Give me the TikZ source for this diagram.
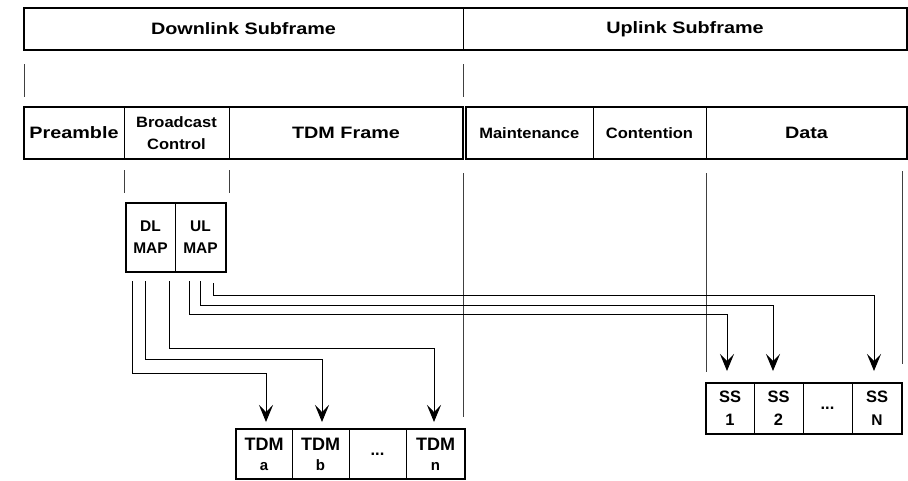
\documentclass[tikz,border=0pt]{standalone}
\usepackage{fontspec}
\setmainfont{Liberation Sans}
\newfontfamily\wideA[FakeStretch=1.2]{Liberation Sans}
\newfontfamily\wideB[FakeStretch=1.1]{Liberation Sans}
\usetikzlibrary{arrows.meta,calc}

\begin{document}
\begin{tikzpicture}[x=1pt,y=-1pt,
  cell/.style={draw, line width=0.9pt, inner sep=0pt, outer sep=0pt,
    anchor=north west, align=center, font=\bfseries},
  frame/.style={draw, line width=2pt},
  guide/.style={draw=black!75, line width=0.9pt},
  conn/.style={draw, line width=1pt,
    -{Stealth[length=17pt,width=14pt,inset=7pt]}},
  big/.style={font=\wideA\bfseries\fontsize{16.5}{20}\selectfont},
  mid/.style={font=\wideB\bfseries\fontsize{15}{22}\selectfont},
  map/.style={font=\bfseries\fontsize{15.5}{22}\selectfont},
  tdm/.style={font=\bfseries\fontsize{18}{20}\selectfont},
  ss/.style={font=\bfseries\fontsize{16.5}{23}\selectfont},
]
\useasboundingbox (0,0) rectangle (908,480);

% ---- top row: subframes
\node[cell,big,minimum width=439pt,minimum height=42pt] (down) at (24,8) {Downlink Subframe};
\node[cell,big,minimum width=444pt,minimum height=42pt] (up) at (463,8) {Uplink Subframe};
\draw[frame] (down.north west) rectangle (up.south east);

\draw[guide] ([yshift=-14pt]down.south west) -- ++(0,33);
\draw[guide] ([yshift=-14pt]up.south west) -- ++(0,33);

% ---- second row: downlink part
\node[cell,big,minimum width=100pt,minimum height=52pt] (pre) at (24,107) {Preamble};
\node[cell,mid,minimum width=105pt,minimum height=52pt] (bc) at (124,107) {Broadcast\\Control};
\node[cell,big,minimum width=234pt,minimum height=52pt] (tdmf) at (229,107) {TDM Frame};
\draw[frame] (pre.north west) rectangle (tdmf.south east);

% ---- second row: uplink part
\node[cell,mid,minimum width=127.5pt,minimum height=52pt] (maint) at (465.5,107) {Maintenance};
\node[cell,mid,minimum width=113pt,minimum height=52pt] (cont) at (593,107) {Contention};
\node[cell,big,minimum width=201pt,minimum height=52pt] (data) at (706,107) {Data};
\draw[frame] (maint.north west) rectangle (data.south east);

% ---- guide lines below the frame
\draw[guide] ([yshift=-11pt]bc.south west) -- ++(0,23);
\draw[guide] ([yshift=-11pt]bc.south east) -- ++(0,23);
\draw[guide] ([yshift=-14pt]tdmf.south east) -- ++(0,244);
\draw[guide] ([yshift=-14pt]data.south west) -- ++(0,199);
\draw[guide] ([shift={(-5pt,-12pt)}]data.south east) -- ++(0,193);

% ---- MAP box
\node[cell,map,minimum width=49pt,minimum height=69pt] (dl) at (126,203) {DL\\MAP};
\node[cell,map,minimum width=51pt,minimum height=69pt] (ul) at (175,203) {UL\\MAP};
\draw[frame] (dl.north west) rectangle (ul.south east);

% ---- TDM bursts
\node[cell,tdm,minimum width=56pt,minimum height=50pt] (tdma) at (236,429) {TDM\\{\fontsize{15}{18}\selectfont a}};
\node[cell,tdm,minimum width=57pt,minimum height=50pt] (tdmb) at (292,429) {TDM\\{\fontsize{15}{18}\selectfont b}};
\node[cell,ss,minimum width=57pt,minimum height=50pt] (tdmd) at (349,429) {...};
\node[cell,tdm,minimum width=59pt,minimum height=50pt] (tdmn) at (406,429) {TDM\\{\fontsize{15}{18}\selectfont n}};
\draw[frame] (tdma.north west) rectangle (tdmn.south east);

% ---- subscriber stations
\node[cell,ss,minimum width=48pt,minimum height=51pt] (ss1) at (706,383) {SS\\1};
\node[cell,ss,minimum width=49pt,minimum height=51pt] (ss2) at (754,383) {SS\\2};
\node[cell,ss,minimum width=49pt,minimum height=51pt] (ssd) at (803,383) {...};
\node[cell,ss,minimum width=50pt,minimum height=51pt] (ssn) at (852,383) {SS\\{\fontsize{15.5}{23}\selectfont N}};
\draw[frame] (ss1.north west) rectangle (ssn.south east);

% ---- DL-MAP pointers
\draw[conn,shorten >=7pt] ([shift={(6,9)}]dl.south west) -- ++(0,92) -| ([xshift=2pt]tdma.north);
\draw[conn,shorten >=7pt] ([shift={(19,9)}]dl.south west) -- ++(0,78) -| ([xshift=1.5pt]tdmb.north);
\draw[conn,shorten >=7pt] ([shift={(43,9)}]dl.south west) -- ++(0,67) -| ([xshift=-1.5pt]tdmn.north);

% ---- UL-MAP pointers
\draw[conn,shorten >=12pt] ([shift={(14,9)}]ul.south west) -- ++(0,33) -| ([xshift=-3pt]ss1.north);
\draw[conn,shorten >=12pt] ([shift={(25,9)}]ul.south west) -- ++(0,24) -| ([xshift=-5.5pt]ss2.north);
\draw[conn,shorten >=12pt] ([shift={(38,11)}]ul.south west) -- ++(0,12) -| ([xshift=-3pt]ssn.north);
\end{tikzpicture}
\end{document}
